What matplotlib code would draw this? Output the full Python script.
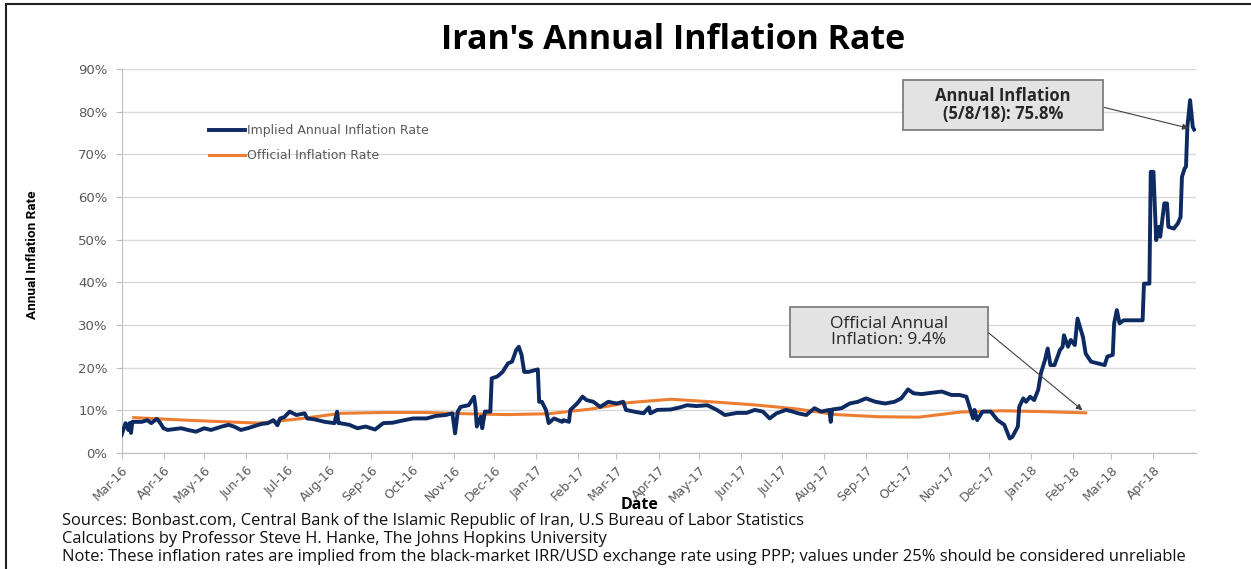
"""Iran's annual inflation rate: implied (black-market) vs official."""

import matplotlib

matplotlib.use("Agg")
import matplotlib.dates as mdates
import matplotlib.pyplot as plt
import pandas as pd
from matplotlib.patches import Rectangle

# ---- data -------------------------------------------------------------
start = pd.Timestamp("2016-03-08")

# implied annual inflation rate, days since 2016-03-08 and percent
implied_day = [
    0, 3, 5, 6, 7, 8, 15, 19, 22, 26, 28, 31, 34, 44, 49, 55, 61, 66, 74, 79,
    83, 88, 93, 98, 103, 108, 112, 115, 117, 120, 124, 129, 135, 137, 142, 150,
    157, 159, 160, 161, 168, 174, 180, 187, 193, 200, 207, 215, 225, 232, 239,
    244, 246, 248, 250, 256, 260, 261, 262, 265, 266, 268, 272, 273, 277, 281,
    285, 288, 291, 293, 295, 297, 300, 307, 308, 310, 313, 315, 319, 325, 326,
    330, 331, 336, 340, 343, 348, 353, 359, 365, 370, 372, 378, 385, 389, 390,
    395, 405, 412, 417, 424, 432, 439, 445, 454, 461, 467, 473, 478, 483, 490,
    495, 499, 505, 511, 516, 522, 523, 524, 531, 537, 543, 549, 556, 563, 570,
    575, 580, 584, 590, 597, 605, 612, 618, 623, 625, 628, 629, 631, 635, 641,
    646, 651, 655, 657, 661, 662, 665, 667, 670, 673, 676, 678, 681, 683, 685,
    688, 692, 694, 695, 698, 700, 703, 705, 709, 711, 715, 720, 725, 727, 731,
    732, 734, 736, 739, 753, 754, 758, 759, 761, 763, 765, 766, 769, 771, 772,
    776, 779, 781, 782, 784, 785, 786, 788, 790, 791,
]
implied_pct = [
    4.2, 7.0, 5.4, 7.0, 4.7, 7.3, 7.3, 7.7, 7.0, 8.0, 7.3, 5.8, 5.4, 5.8, 5.4,
    5.0, 5.8, 5.4, 6.2, 6.6, 6.2, 5.4, 5.8, 6.3, 6.8, 7.0, 7.7, 6.5, 8.1, 8.4,
    9.7, 8.9, 9.3, 8.1, 7.9, 7.3, 7.0, 9.7, 7.0, 7.0, 6.6, 5.8, 6.2, 5.5, 7.0,
    7.1, 7.6, 8.1, 8.1, 8.7, 8.9, 9.3, 4.6, 9.7, 10.8, 11.2, 13.2, 10.8, 6.2,
    8.5, 5.8, 9.7, 9.7, 17.5, 17.9, 19.0, 21.0, 21.4, 24.1, 24.9, 23.0, 19.0,
    19.0, 19.6, 12.0, 12.0, 10.1, 7.0, 8.1, 7.3, 7.7, 7.3, 10.1, 11.6, 13.2,
    12.4, 12.0, 10.8, 12.0, 11.6, 12.0, 10.1, 9.7, 9.3, 10.7, 9.3, 10.1, 10.2,
    10.7, 11.2, 11.0, 11.2, 10.1, 8.9, 9.4, 9.4, 10.1, 9.7, 8.1, 9.3, 10.1,
    9.7, 9.3, 8.9, 10.5, 9.7, 10.1, 7.3, 10.2, 10.5, 11.6, 12.0, 12.8, 12.0,
    11.6, 12.0, 12.8, 14.9, 14.0, 13.8, 14.1, 14.4, 13.6, 13.6, 13.2, 11.2,
    8.1, 10.1, 7.7, 9.7, 9.7, 7.7, 6.6, 3.4, 3.8, 6.2, 10.8, 12.8, 12.0, 13.2,
    12.4, 14.8, 18.7, 21.8, 24.5, 20.6, 20.6, 24.1, 24.9, 27.6, 24.9, 26.5,
    25.3, 31.5, 27.2, 23.3, 21.4, 21.0, 20.6, 22.6, 23.0, 30.4, 33.5, 30.4,
    31.1, 31.1, 39.7, 39.7, 65.9, 65.9, 49.9, 53.0, 50.7, 58.5, 58.5, 53.0,
    52.6, 53.8, 55.3, 64.7, 66.7, 67.1, 76.4, 82.7, 76.4, 75.8,
]

# official (monthly) inflation rate
official_dates = [
    "2016-03-17", "2016-04-17", "2016-05-17", "2016-06-17", "2016-07-17",
    "2016-08-17", "2016-09-17", "2016-10-17", "2016-11-17", "2016-12-17",
    "2017-01-17", "2017-02-17", "2017-03-17", "2017-04-17", "2017-05-17",
    "2017-06-17", "2017-07-17", "2017-08-17", "2017-09-17", "2017-10-17",
    "2017-11-17", "2017-12-17", "2018-01-17", "2018-02-17",
]
official_pct = [
    8.3, 7.8, 7.4, 7.0, 8.0, 9.3, 9.5, 9.5, 9.2, 9.0, 9.2, 10.3, 11.8, 12.6,
    12.0, 11.3, 10.4, 9.0, 8.5, 8.4, 9.6, 9.9, 9.7, 9.4,
]

# month ticks, Mar-16 .. Apr-18
x_tick_dates = [
    "2016-03-08", "2016-04-08", "2016-05-08", "2016-06-08", "2016-07-08",
    "2016-08-08", "2016-09-08", "2016-10-08", "2016-11-08", "2016-12-08",
    "2017-01-08", "2017-02-08", "2017-03-08", "2017-04-08", "2017-05-08",
    "2017-06-08", "2017-07-08", "2017-08-08", "2017-09-08", "2017-10-08",
    "2017-11-08", "2017-12-08", "2018-01-08", "2018-02-08", "2018-03-08",
    "2018-04-08",
]
y_ticks = [0, 10, 20, 30, 40, 50, 60, 70, 80, 90]

source_lines = [
    "Sources: Bonbast.com, Central Bank of the Islamic Republic of Iran, U.S Bureau of Labor Statistics",
    "Calculations by Professor Steve H. Hanke, The Johns Hopkins University",
    "Note: These inflation rates are implied from the black-market IRR/USD exchange rate using PPP; "
    "values under 25% should be considered unreliable",
]

# ---- figure -----------------------------------------------------------
NAVY = "#0d2a62"
ORANGE = "#ed7d31"
GREY_TXT = "#595959"

fig = plt.figure(figsize=(12.51, 5.69), dpi=100)
W, H = 1251, 569
ax = fig.add_axes([121.5 / W, 1 - 453 / H, 1074 / W, 384 / H])

implied_dates = start + pd.to_timedelta(implied_day, unit="D")
ax.plot(pd.to_datetime(official_dates), official_pct, color=ORANGE, lw=2.2,
        label="Official Inflation Rate", zorder=2)
ax.plot(implied_dates, implied_pct, color=NAVY, lw=2.8,
        label="Implied Annual Inflation Rate", zorder=3, solid_joinstyle="round")

ax.set_xlim(start, pd.Timestamp("2018-05-09"))
ax.set_ylim(0, 90)
ax.set_yticks(y_ticks)
ax.set_yticklabels([f"{v}%" for v in y_ticks])
ax.set_xticks(pd.to_datetime(x_tick_dates))
ax.xaxis.set_major_formatter(mdates.DateFormatter("%b-%y"))
for lab in ax.get_xticklabels():
    lab.set_rotation(45)
    lab.set_ha("right")
    lab.set_rotation_mode("anchor")

ax.grid(axis="y", color="#d9d9d9", lw=1)
ax.set_axisbelow(True)
for side in ("top", "right"):
    ax.spines[side].set_visible(False)
for side in ("left", "bottom"):
    ax.spines[side].set_color("#bfbfbf")
ax.tick_params(axis="both", colors="#bfbfbf", labelcolor=GREY_TXT, labelsize=9, length=4)
ax.tick_params(axis="y", pad=6, labelsize=9.5)

fig.text(640 / W, 1 - 505 / H, "Date", ha="center", va="center",
         fontsize=11.5, fontweight="bold", family="Open Sans")
fig.text(33 / W, 1 - 255 / H, "Annual Inflation Rate", rotation=90, ha="center", va="center",
         fontsize=9.7, fontweight="bold", family="Roboto")

handles, labels = ax.get_legend_handles_labels()
leg = ax.legend(handles[::-1], labels[::-1], loc="upper left", bbox_to_anchor=(0.077, 0.87),
                frameon=False, fontsize=9, handlelength=2.9, handletextpad=0.1,
                labelspacing=1.0, borderaxespad=0)
for t in leg.get_texts():
    t.set_color(GREY_TXT)

fig.text(673 / W, 1 - 40 / H, "Iran's Annual Inflation Rate", ha="center", va="center",
         fontsize=24.5, fontweight="bold", family="Open Sans")

# annotation boxes
box_kw = dict(transform=ax.transAxes, clip_on=False, facecolor="#e3e3e3",
              edgecolor="#7f7f7f", lw=1.3, zorder=5)
ax.add_patch(Rectangle((0.7277, 0.841), 0.1862, 0.130, **box_kw))
ax.text(0.8208, 0.906, "Annual Inflation\n(5/8/18): 75.8%", transform=ax.transAxes,
        ha="center", va="center", fontsize=12, fontweight="bold", family="Open Sans",
        color="#262626", zorder=6, linespacing=1.05)
ax.annotate("", xy=(implied_dates[-1], implied_pct[-1]), xycoords="data",
            xytext=(0.9150, 0.900), textcoords="axes fraction",
            arrowprops=dict(arrowstyle="-|>", color="#404040", lw=0.8,
                            mutation_scale=9, shrinkA=0, shrinkB=4), zorder=6)

ax.add_patch(Rectangle((0.6224, 0.250), 0.1844, 0.130, **box_kw))
ax.text(0.7146, 0.315, "Official Annual\nInflation: 9.4%", transform=ax.transAxes,
        ha="center", va="center", fontsize=12.5, family="Open Sans", color="#262626",
        zorder=6, linespacing=1.05)
ax.annotate("", xy=(pd.Timestamp(official_dates[-1]), official_pct[-1]), xycoords="data",
            xytext=(0.8075, 0.3125), textcoords="axes fraction",
            arrowprops=dict(arrowstyle="-|>", color="#404040", lw=0.8,
                            mutation_scale=9, shrinkA=0, shrinkB=3), zorder=6)

# source notes
for i, line in enumerate(source_lines):
    fig.text(62 / W, 1 - (521 + 18 * i) / H, line, ha="left", va="center",
             fontsize=11.9, family="Open Sans", color="#111111")

# outer frame
fig.patches.append(Rectangle((6 / W, -0.02), 1.1, 1 - 4 / H + 0.02, transform=fig.transFigure,
                             fill=False, edgecolor="#222222", lw=1.5))

fig.savefig("out.png", dpi=100)
plt.close(fig)
